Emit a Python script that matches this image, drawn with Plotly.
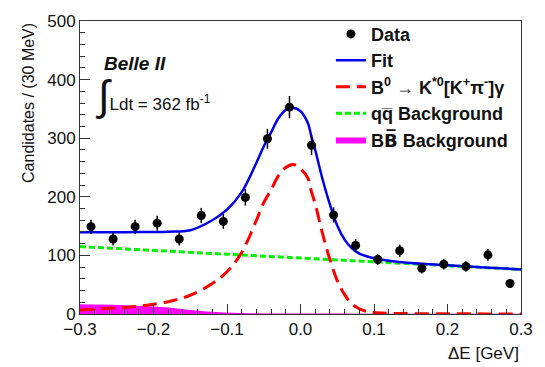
import plotly.graph_objects as go

# ---------------- data ----------------
bin_centers = [-0.285, -0.255, -0.225, -0.195, -0.165, -0.135, -0.105, -0.075, -0.045, -0.015,
               0.015, 0.045, 0.075, 0.105, 0.135, 0.165, 0.195, 0.225, 0.255, 0.285]
data_counts = [149, 128, 149, 155, 128, 168, 158, 199, 299, 353,
               288, 169, 117, 93, 108, 78, 85, 81, 101, 52]
data_errors = [12, 11, 12, 12.5, 11, 13, 12.5, 14, 17, 19,
               17, 13, 11, 9.7, 10.4, 8.8, 9.2, 9, 10, 7.2]

curve_x = [-0.30, -0.27, -0.24, -0.21, -0.18, -0.15, -0.12, -0.10, -0.08, -0.06, -0.05, -0.04,
           -0.03, -0.02, -0.01, 0.00, 0.01, 0.015, 0.02, 0.03, 0.04, 0.05, 0.06, 0.07, 0.08,
           0.09, 0.10, 0.12, 0.15, 0.20, 0.25, 0.30]
fit_total = [139.5, 139.5, 139.5, 140, 140.5, 143, 160, 178, 208, 258, 286, 310,
             334, 348, 352, 346, 326, 302, 280, 230, 187, 151, 127, 112, 103,
             98.5, 95, 91, 87, 83, 79.5, 76]
signal = [7, 9, 11, 15, 21, 32, 52, 72, 105, 160, 190, 212,
          236, 250, 255, 248, 232, 208, 188, 137, 93, 57, 33, 17, 9,
          4.5, 2.5, 1.2, 0.6, 0.3, 0.2, 0.2]
qq_x = [-0.30, 0.30]
qq_bkg = [115, 76]
bb_x = [-0.30, -0.27, -0.24, -0.21, -0.18, -0.15, -0.12, -0.10, -0.08, -0.05, 0.00, 0.10, 0.30]
bb_bkg = [16.5, 16, 15, 13.5, 11, 7, 4, 2.5, 1.5, 1, 0.8, 0.5, 0.3]

FONT = "Liberation Sans, Arial, Helvetica, sans-serif"
TXT = "#111111"

fig = go.Figure()

fig.add_trace(go.Scatter(
    x=bb_x, y=bb_bkg, mode="lines", line=dict(width=0, color="#ff00ff", shape="spline"),
    fill="tozeroy", fillcolor="#ff00ff",
    name="B<span style='font-family:DejaVu Sans'>B\u0305</span> Background",
    legendgroup="e", legendrank=5))
fig.add_trace(go.Scatter(
    x=qq_x, y=qq_bkg, mode="lines", line=dict(color="#00ee00", width=3, dash="6px,3px"),
    name="qq\u0305 Background", legendgroup="d", legendrank=4))
fig.add_trace(go.Scatter(
    x=curve_x, y=signal, mode="lines",
    line=dict(color="#ff0000", width=3, dash="14px,7px", shape="spline"),
    name="B<sup>0</sup> \u2192 K<sup>*0</sup>[K<sup>+</sup>\u03c0<sup>-</sup>]\u03b3",
    legendgroup="c", legendrank=3))
fig.add_trace(go.Scatter(
    x=curve_x, y=fit_total, mode="lines",
    line=dict(color="#0000ee", width=2.5, shape="spline"),
    name="Fit", legendgroup="b", legendrank=2))
fig.add_trace(go.Scatter(
    x=bin_centers, y=data_counts, mode="markers",
    marker=dict(color="black", size=9),
    error_y=dict(type="data", array=data_errors, color="black", thickness=1.5, width=0),
    name="Data", legendgroup="a", legendrank=1))

axis_common = dict(
    showgrid=False, zeroline=False, showline=True, linecolor="#333333", linewidth=1,
    mirror=True, ticks="inside", ticklen=10, tickcolor="#333333", tickwidth=1,
    tickfont=dict(family=FONT, size=17, color=TXT),
)

fig.update_xaxes(range=[-0.3, 0.3], dtick=0.1, tick0=-0.3,
                 minor=dict(ticks="inside", ticklen=5, dtick=0.02, tick0=-0.3,
                            tickcolor="#333333", showgrid=False),
                 tickformat=".1f", **axis_common)
fig.update_yaxes(range=[0, 500], dtick=100,
                 minor=dict(ticks="inside", ticklen=5, dtick=20,
                            tickcolor="#333333", showgrid=False),
                 **axis_common)

fig.update_layout(
    width=545, height=367,
    margin=dict(l=80, r=23, t=13, b=53),
    paper_bgcolor="white", plot_bgcolor="white",
    font=dict(family=FONT, size=16, color=TXT),
    showlegend=True,
    legend=dict(x=0.569, y=1.018, xanchor="left", yanchor="top",
                bgcolor="rgba(0,0,0,0)", borderwidth=0,
                font=dict(family=FONT, size=18, color=TXT, weight="bold"),
                traceorder="grouped", tracegroupgap=0, itemwidth=30),
    annotations=[
        dict(text="Candidates / (30 MeV)", textangle=-90, xref="paper", yref="paper",
             x=-0.118, y=1.0, xanchor="center", yanchor="top", showarrow=False,
             font=dict(family=FONT, size=16, color=TXT)),
        dict(text="\u0394E [GeV]", xref="paper", yref="paper", x=1.0, y=-0.135,
             xanchor="right", yanchor="middle", showarrow=False,
             font=dict(family=FONT, size=17, color=TXT)),
        dict(text="<b><i>Belle II</i></b>", xref="paper", yref="paper", x=0.05, y=0.856,
             xanchor="left", yanchor="middle", showarrow=False,
             font=dict(family=FONT, size=19, color=TXT)),
        dict(text="<span style='font-size:42px'>\u222b</span>Ldt = 362 fb<sup>-1</sup>",
             xref="paper", yref="paper", x=0.032, y=0.745,
             xanchor="left", yanchor="middle", showarrow=False,
             font=dict(family=FONT, size=17, color=TXT)),
    ],
)

fig.write_html("out.html")
